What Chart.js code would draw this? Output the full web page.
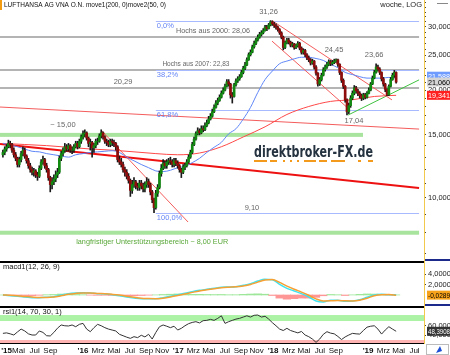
<!DOCTYPE html>
<html lang="de">
<head>
<meta charset="UTF-8">
<title>Lufthansa Wochenchart</title>
<style>
    body { margin: 0; background: #fff; }
    #wrap { position: relative; width: 450px; height: 355px; overflow: hidden; background: #fff; }
    #wrap canvas { position: absolute; left: 0; }
</style>
</head>
<body>
<div id="wrap">
    <canvas id="mainChart" width="450" height="261" style="top:0"></canvas>
    <canvas id="macdChart" width="450" height="45" style="top:261px"></canvas>
    <canvas id="rsiChart" width="450" height="49" style="top:306px"></canvas>
</div>

<script src="https://cdn.jsdelivr.net/npm/chart.js"></script>
<script>
// Wochen gezaehlt ab 5. Jan 2015 (Woche 0)
const firstWeek = 8;
const firstOpen = 13.2;

const closes = [
    13.4, 13.7, 13.9, 14.2, 14.1, 13.6, 13.2, 12.9, 12.4, 12.8,
    13.3, 13.6, 13.1, 12.7, 12.3, 12.0, 11.8, 11.9, 11.6, 11.5,
    12.1, 12.6, 12.8, 12.3, 12.0, 11.4, 10.9, 11.1, 11.3, 11.6,
    11.8, 12.9, 13.3, 13.6, 13.9, 13.7, 14.0, 13.6, 13.6, 13.9,
    14.2, 13.9, 14.4, 14.8, 15.1, 15.2, 14.7, 14.2, 14.3, 13.8,
    14.0, 14.4, 14.4, 14.9, 15.2, 14.8, 14.4, 14.3, 14.1, 14.4,
    14.3, 14.2, 13.9, 12.8, 12.6, 12.4, 12.0, 11.8, 11.5, 11.2,
    10.5, 10.9, 11.1, 10.8, 10.7, 11.0, 10.8, 10.6, 10.9, 11.1,
    10.9, 10.4, 9.9, 9.4, 10.3, 10.7, 11.7, 12.1, 12.5, 12.3,
    12.6, 12.7, 12.6, 12.4, 12.7, 12.5, 12.3, 12.0, 11.8, 12.2,
    12.3, 12.6, 13.0, 13.4, 14.1, 14.6, 15.1, 15.4, 15.2, 15.6,
    15.5, 15.9, 16.2, 16.6, 16.9, 17.4, 17.9, 18.4, 18.7, 19.1,
    19.6, 20.0, 20.5, 21.1, 20.8, 19.4, 19.2, 20.7, 21.2, 21.5,
    21.8, 22.4, 23.0, 23.5, 24.3, 25.1, 25.5, 26.4, 27.0, 27.6,
    28.1, 28.6, 28.9, 29.3, 30.0, 29.7, 30.4, 31.0, 30.6, 30.3,
    30.0, 29.5, 28.9, 28.1, 26.3, 27.1, 27.6, 27.2, 26.7, 26.9,
    26.3, 26.6, 27.0, 26.2, 25.5, 25.8, 25.1, 24.6, 24.3, 23.8,
    24.1, 23.2, 22.3, 20.8, 21.4, 22.0, 22.8, 23.2, 23.6, 24.0,
    23.7, 23.9, 24.1, 24.3, 23.6, 22.4, 21.3, 20.5, 18.8, 17.4,
    18.1, 19.0, 19.6, 20.3, 19.9, 19.6, 19.3, 19.0, 19.4, 19.1,
    19.6, 20.0, 20.8, 21.6, 22.4, 23.2, 22.9, 22.4, 21.5, 20.8,
    20.1, 19.4, 20.5, 21.4, 22.0, 22.4, 21.06
];
const highs = [
    13.6, 13.9, 14.1, 14.5, 14.4, 14.2, 13.8, 13.4, 13.0, 13.0,
    13.5, 13.9, 13.8, 13.2, 12.9, 12.5, 12.2, 12.1, 12.0, 11.8,
    12.3, 12.8, 13.1, 12.9, 12.5, 12.1, 11.5, 11.4, 11.6, 11.9,
    12.1, 13.1, 13.5, 13.8, 14.2, 14.1, 14.2, 14.1, 13.9, 14.1,
    14.4, 14.4, 14.6, 15.0, 15.4, 15.5, 15.3, 14.8, 14.6, 14.4,
    14.2, 14.6, 14.7, 15.1, 15.5, 15.3, 14.9, 14.6, 14.5, 14.6,
    14.6, 14.5, 14.3, 14.0, 13.1, 12.9, 12.6, 12.2, 12.0, 11.7,
    11.3, 11.2, 11.4, 11.2, 11.0, 11.2, 11.2, 11.0, 11.1, 11.4,
    11.3, 11.0, 10.5, 10.0, 10.5, 10.9, 11.9, 12.4, 12.8, 12.7,
    12.8, 12.9, 13.0, 12.8, 12.9, 12.9, 12.7, 12.4, 12.1, 12.4,
    12.5, 12.8, 13.2, 13.6, 14.3, 14.8, 15.3, 15.7, 15.6, 15.9,
    15.9, 16.2, 16.5, 16.9, 17.2, 17.7, 18.2, 18.7, 19.0, 19.4,
    19.9, 20.3, 20.8, 21.4, 21.4, 20.9, 19.7, 20.9, 21.5, 21.8,
    22.1, 22.7, 23.3, 23.9, 24.6, 25.4, 25.9, 26.7, 27.4, 27.9,
    28.5, 29.0, 29.3, 29.7, 30.3, 30.3, 30.7, 31.26, 31.2, 30.9,
    30.6, 30.2, 29.7, 29.1, 28.3, 27.4, 27.9, 27.9, 27.4, 27.2,
    27.0, 26.9, 27.3, 27.2, 26.4, 26.1, 26.0, 25.3, 24.9, 24.5,
    24.4, 24.2, 23.4, 22.4, 21.7, 22.3, 23.1, 23.5, 23.9, 24.3,
    24.2, 24.2, 24.4, 24.45, 24.4, 23.7, 22.5, 21.5, 20.6, 18.9,
    18.4, 19.3, 19.9, 20.6, 20.5, 20.1, 19.8, 19.5, 19.6, 19.6,
    19.8, 20.3, 21.0, 21.9, 22.7, 23.66, 23.5, 23.1, 22.5, 21.7,
    20.9, 20.2, 20.7, 21.7, 22.3, 22.7, 22.5
];
const lows = [
    13.0, 13.2, 13.5, 13.8, 13.8, 13.4, 13.0, 12.7, 12.2, 12.2,
    12.6, 13.1, 12.9, 12.5, 12.1, 11.8, 11.6, 11.5, 11.4, 11.2,
    11.4, 12.0, 12.4, 12.1, 11.8, 11.2, 10.4, 10.6, 10.9, 11.1,
    11.4, 11.7, 12.7, 13.1, 13.4, 13.5, 13.5, 13.4, 13.3, 13.4,
    13.8, 13.7, 13.8, 14.2, 14.6, 14.8, 14.5, 13.9, 13.6, 13.0,
    13.4, 13.8, 14.1, 14.3, 14.7, 14.6, 14.2, 14.0, 13.9, 13.9,
    14.0, 13.9, 13.6, 12.6, 12.4, 12.2, 11.8, 11.5, 11.3, 11.0,
    10.1, 10.3, 10.7, 10.6, 10.5, 10.5, 10.6, 10.4, 10.4, 10.7,
    10.7, 10.2, 9.7, 9.1, 9.3, 10.1, 10.6, 11.5, 12.0, 12.1,
    12.1, 12.4, 12.4, 12.2, 12.2, 12.3, 12.1, 11.8, 11.4, 11.7,
    12.0, 12.2, 12.5, 12.9, 13.3, 14.0, 14.5, 15.0, 15.0, 15.1,
    15.3, 15.4, 15.8, 16.1, 16.5, 16.8, 17.3, 17.8, 18.2, 18.6,
    19.0, 19.5, 19.9, 20.4, 20.5, 19.0, 18.4, 19.1, 20.5, 21.0,
    21.3, 21.7, 22.2, 22.8, 23.4, 24.2, 24.9, 25.4, 26.2, 26.8,
    27.4, 27.9, 28.3, 28.7, 29.2, 29.3, 29.6, 30.2, 30.3, 29.9,
    29.6, 29.2, 28.6, 27.8, 25.9, 26.1, 26.9, 26.9, 26.4, 26.4,
    26.0, 26.1, 26.4, 25.9, 25.2, 25.2, 24.8, 24.3, 24.0, 23.5,
    23.6, 22.9, 22.0, 20.5, 20.6, 21.2, 21.9, 22.6, 23.0, 23.4,
    23.4, 23.5, 23.7, 23.9, 23.3, 22.1, 21.0, 20.2, 18.5, 17.04,
    17.2, 17.9, 18.8, 19.4, 19.6, 19.3, 19.0, 18.7, 18.8, 18.9,
    19.0, 19.5, 19.9, 20.7, 21.5, 22.3, 22.6, 22.1, 21.2, 20.5,
    19.8, 19.3, 19.3, 20.4, 21.3, 21.7, 20.9
];

// gleitende Durchschnitte (move2 = 50 Wochen alle 4 Wochen, move1 = 200 Wochen alle 12 Wochen)
const ma50Step = 4;
const ma50 = [
    14.2, 14.05, 13.9, 13.7, 13.5, 13.45, 13.3, 13.2, 13.1, 13.0, 13.2,
    13.3, 13.4, 13.45, 13.5, 13.55, 13.4, 13.0, 12.7, 12.4, 12.15, 11.9,
    11.85, 11.95, 12.15, 12.25, 12.55, 12.9, 13.4, 13.85, 14.3, 15.1, 15.6,
    16.6, 17.9, 19.7, 21.4, 22.6, 23.7, 24.1, 24.45, 24.7, 24.7, 24.5,
    24.2, 23.6, 23.1, 22.4, 22.1, 21.8, 21.6, 21.6, 21.6, 21.7, 21.588
];
const ma200Step = 12;
const ma200 = [14.2, 14.1, 14.0, 13.85, 13.7, 13.6, 13.45, 13.3, 13.2, 13.35,
               13.9, 14.8, 15.8, 17.1, 18.0, 18.6, 18.8, 19.2, 19.341];

// Linien und Marken im Kurschart
const fibLevels = [31.26, 22.79, 17.57, 9.10];
const fibLabels = ['0,0%', '38,2%', '61,8%', '100,0%'];
const fibFromWeek = 92;
const resistLevels = [28.06, 22.83, 20.29];
const resistLabels = ['Hochs aus 2000: 28,06', 'Hochs aus 2007: 22,83', '20,29'];
const supportLevels = [15.00, 8.00];
const supportEnds = [205.8, 236.6];
const supportLabels = ['~ 15,00', 'langfristiger Unterstützungsbereich ~ 8,00 EUR'];
const extremeWeeks = [155, 191, 213, 197];
const extremeValues = [31.26, 24.45, 23.66, 17.04];
const extremeKinds = ['hoch', 'hoch', 'hoch', 'tief'];

const trendThin = [[6.4, 17.94], [236.6, 15.57]];
const trendThick = [[6.4, 14.15], [236.6, 10.66]];
const trend2016 = [[62.4, 15.38], [109.7, 8.57]];
const trend2018a = [[155.8, 31.26], [221.7, 18.78]];
const trend2018b = [[155.8, 27.4], [197.6, 17.8]];
const trendGreen = [[197.6, 17.04], [236.6, 21.36]];

const priceTicks = [10, 15, 20, 25, 30];

// MACD und Signal alle 4 Wochen
const macdStep = 4;
const macdLine = [
    0.0, -0.13, -0.25, -0.38, -0.51, -0.51, -0.44, -0.32, 0.0, 0.25, 0.38,
    0.44, 0.38, 0.25, 0.19, 0.06, -0.13, -0.38, -0.57, -0.70, -0.70, -0.70,
    -0.51, -0.25, 0.06, 0.32, 0.63, 0.89, 1.08, 1.27, 1.46, 1.52, 1.59,
    1.84, 2.16, 2.67, 2.98, 2.92, 2.03, 1.27, 0.76, 0.25, -0.38, -1.14,
    -1.33, -1.02, -1.02, -1.21, -1.14, -0.89, -0.44, 0.0, 0.13, 0.06, 0.06
];
const signalLine = [
    0.0, -0.05, -0.15, -0.28, -0.40, -0.48, -0.48, -0.40, -0.15, 0.12, 0.30,
    0.40, 0.40, 0.30, 0.22, 0.12, -0.02, -0.25, -0.45, -0.62, -0.68, -0.70,
    -0.60, -0.38, -0.08, 0.2, 0.5, 0.78, 1.0, 1.2, 1.38, 1.48, 1.55,
    1.72, 2.0, 2.45, 2.85, 2.95, 2.4, 1.7, 1.1, 0.55, -0.05, -0.75,
    -1.15, -1.12, -1.05, -1.12, -1.15, -1.0, -0.62, -0.15, 0.06, 0.08, -0.0289
];
const macdHist = [
    0, -0.1, -0.12, -0.12, -0.12, -0.05, 0.05, 0.1, 0.18, 0.15, 0.1,
    0.05, -0.03, -0.06, -0.05, -0.08, -0.15, -0.2, -0.15, -0.1, -0.03, 0.02,
    0.1, 0.15, 0.2, 0.15, 0.13, 0.12, 0.1, 0.08, 0.1, 0.05, 0.05,
    0.12, 0.18, 0.22, 0.15, -0.1, -0.6, -0.8, -0.7, -0.6, -0.6, -0.45,
    -0.15, 0.1, 0.05, -0.1, 0.03, 0.12, 0.2, 0.18, 0.08, -0.02, 0.02
];
const macdTicks = [2, 4];

// RSI alle 2 Wochen
const rsiStep = 2;
const rsiValues = [
    44, 45, 43, 40.5, 47, 53, 49, 43, 40.5, 40.5,
    49, 46, 39, 38.5, 46, 55, 61.6, 60, 59.5, 61.6,
    58, 63, 65, 53, 47.5, 56, 63, 60, 56, 53,
    51, 49, 42, 39, 36, 33.5, 37, 35, 40, 36.5,
    42, 32, 46, 58, 61.6, 59, 56, 59, 51, 54.6,
    60, 64.4, 67, 68.6, 66, 70.7, 71.4, 73.5, 71.4, 75.6,
    81, 65, 68.6, 71.4, 74, 75.6, 78.3, 81, 78.3, 82,
    82.6, 78.3, 80, 74, 66.5, 60, 53, 50, 54.6, 50,
    47.5, 45, 48, 40.5, 37, 32, 25, 32, 42, 47.5,
    44.5, 43, 37.5, 31, 36.5, 40.5, 44, 43, 42.5, 50,
    57, 59, 60, 53, 42.5, 51, 58, 53, 48.3908
];
const rsiUpper = 70, rsiLower = 30;
const rsiTicks = [40, 60];

const xTickWeeks = [10, 16.6, 25.4, 34.1, 52, 60.3, 69, 77.7, 86.6, 95.4, 104.3, 112.6, 121.1,
                    129.9, 138.7, 147.4, 156.4, 164.9, 173.4, 182.1, 190.9, 208.6, 217, 225.4, 234.1];
const xTickLabels = ["'15", 'Mai', 'Jul', 'Sep', "'16", 'Mrz', 'Mai', 'Jul', 'Sep', 'Nov', "'17", 'Mrz', 'Mai',
                     'Jul', 'Sep', 'Nov', "'18", 'Mrz', 'Mai', 'Jul', 'Sep', "'19", 'Mrz', 'Mai', 'Jul'];

// ---------------------------------------------------------------
Chart.defaults.font.family = '"Liberation Sans", Arial, sans-serif';
Chart.defaults.font.size = 7.5;
Chart.defaults.color = '#222';
Chart.defaults.animation = false;

const X_MIN = 6.4, X_MAX = 239.3, LINE_END = 236.6, AXIS_W = 26;
const fmt = (v, d) => v.toFixed(d).replace('.', ',');
const toPts = (vals, step) => vals.map((v, i) => ({ x: firstWeek + i * step, y: v }));
const seg = pts => pts.map(p => ({ x: p[0], y: p[1] }));
const lineDs = (data, color, width, extra) => Object.assign(
    { type: 'line', data, borderColor: color, borderWidth: width, pointRadius: 0, fill: false, tension: 0, order: 3 }, extra || {});

function xAxis() {
    return { type: 'linear', min: X_MIN, max: X_MAX, offset: false, display: false, grid: { offset: false } };
}
function rightAxis(min, max, ticks, decimals, type) {
    return {
        type: type || 'linear', position: 'right', min, max,
        afterBuildTicks: s => { s.ticks = ticks.map(v => ({ value: v })); },
        afterFit: s => { s.width = AXIS_W; s.paddingTop = 0; s.paddingBottom = 0; },
        grid: { drawOnChartArea: false, tickLength: 2, color: '#444' },
        border: { color: '#f2c94c', width: 1 },
        ticks: { autoSkip: false, padding: 2, color: '#222',
                 callback: v => (type === 'logarithmic' && !priceTicks.includes(v)) ? '' : fmt(v, decimals) }
    };
}
function txt(ctx, s, x, y, color, align, maxW, font) {
    ctx.font = font || '7.5px "Liberation Sans", Arial, sans-serif';
    ctx.fillStyle = color;
    ctx.textAlign = align || 'left';
    ctx.textBaseline = 'middle';
    if (maxW) ctx.fillText(s, x, y, maxW); else ctx.fillText(s, x, y);
}
function hline(ctx, x1, x2, y) { ctx.beginPath(); ctx.moveTo(x1, y); ctx.lineTo(x2, y); ctx.stroke(); }
function valueBox(ctx, a, py, text, bg, fg) {
    ctx.fillStyle = bg;
    ctx.fillRect(a.right + 3, py - 4.5, AXIS_W - 3, 9);
    txt(ctx, text, a.right + 4, py + 0.5, fg, 'left', AXIS_W - 4);
}

// ---------------------------------------------------------------
const weeks = closes.map((c, i) => firstWeek + i);
const opens = closes.map((c, i) => i ? closes[i - 1] : firstOpen);
const minorPriceTicks = Array.from({ length: 29 }, (v, i) => 7 + i);

const mainDeco = {
    id: 'mainDeco',
    beforeDatasetsDraw(chart) {
        const { ctx, chartArea: a } = chart;
        const x = chart.scales.x, y = chart.scales.y;
        const xEnd = x.getPixelForValue(LINE_END);
        ctx.save();
        // Wasserzeichen
        ctx.font = 'bold 16px "DejaVu Sans", sans-serif';
        ctx.fillStyle = '#25323f';
        ctx.textAlign = 'left';
        ctx.textBaseline = 'alphabetic';
        ctx.fillText('direktbroker-FX.de', 254, 157, 119);
        ctx.strokeStyle = '#f39a1c';
        ctx.lineWidth = 2;
        ctx.setLineDash([13, 3, 7, 6, 2, 5, 2, 5, 2, 5, 12, 3, 8, 4, 14]);
        hline(ctx, 254, 373, 161);
        ctx.setLineDash([]);

        ctx.fillStyle = '#a8e49e';
        supportLevels.forEach((v, i) => {
            const py = y.getPixelForValue(v);
            ctx.fillRect(a.left, py - 2, x.getPixelForValue(supportEnds[i]) - a.left, 4);
        });
        ctx.strokeStyle = '#b4b4b4';
        ctx.lineWidth = 2;
        resistLevels.forEach(v => hline(ctx, a.left, xEnd, Math.round(y.getPixelForValue(v))));
        ctx.strokeStyle = '#a9b9ff';
        ctx.lineWidth = 1;
        fibLevels.forEach(v => hline(ctx, x.getPixelForValue(fibFromWeek), xEnd, Math.round(y.getPixelForValue(v)) + 0.5));
        ctx.restore();
    },
    afterDraw(chart) {
        const { ctx, chartArea: a } = chart;
        const x = chart.scales.x, y = chart.scales.y;
        ctx.save();
        // Titel
        ctx.fillStyle = '#f39c12';
        ctx.fillRect(0, 0, 2, 10);
        txt(ctx, 'LUFTHANSA AG VNA O.N. move1(200, 0)move2(50, 0)', 4, 5, '#111', 'left', 162, '8px "Liberation Sans", Arial, sans-serif');
        txt(ctx, 'woche, LOG', a.right - 2, 5, '#222', 'right');
        ctx.fillStyle = '#888';
        ctx.fillRect(437, 3, 11, 1);

        const fx = x.getPixelForValue(fibFromWeek) + 1;
        fibLevels.forEach((v, i) => txt(ctx, fibLabels[i], fx, y.getPixelForValue(v) + 5, '#6585f5', 'left'));
        txt(ctx, fmt(fibLevels[3], 2), x.getPixelForValue(144.8), y.getPixelForValue(fibLevels[3]) - 5, '#666', 'center');

        const resistAt = [123.4, 114, 74];
        const resistW = [74, 67, 0];
        resistLevels.forEach((v, i) => txt(ctx, resistLabels[i], x.getPixelForValue(resistAt[i]),
            y.getPixelForValue(v) - 6, '#666', 'center', resistW[i] || undefined));

        txt(ctx, supportLabels[0], x.getPixelForValue(41), y.getPixelForValue(supportLevels[0]) - 10, '#666', 'center');
        txt(ctx, supportLabels[1], x.getPixelForValue(90), y.getPixelForValue(supportLevels[1]) + 9, '#5aa83a', 'center', 152);

        extremeValues.forEach((v, i) => {
            const dy = extremeKinds[i] === 'tief' ? 6 : -9;
            const dx = extremeKinds[i] === 'tief' ? 7 : -2;
            txt(ctx, fmt(v, 2), x.getPixelForValue(extremeWeeks[i]) + dx, y.getPixelForValue(v) + dy, '#666', 'center');
        });

        // Kursboxen rechts
        valueBox(ctx, a, y.getPixelForValue(ma50[ma50.length - 1]) - 2, fmt(ma50[ma50.length - 1], 3), '#6d9bff', '#fff');
        valueBox(ctx, a, y.getPixelForValue(closes[closes.length - 1]), fmt(closes[closes.length - 1], 3), '#d4d4d4', '#000');
        valueBox(ctx, a, y.getPixelForValue(ma200[ma200.length - 1]), fmt(ma200[ma200.length - 1], 3), '#ff1f1f', '#fff');
        ctx.fillStyle = '#1c2a8c';
        ctx.fillRect(a.right + 1, chart.height - 2, AXIS_W, 2);
        ctx.restore();
    }
};

new Chart(document.getElementById('mainChart'), {
    type: 'bar',
    data: {
        datasets: [
            { type: 'bar', data: weeks.map((w, i) => ({ x: w, y: [opens[i], closes[i]] })),
              backgroundColor: c => closes[c.dataIndex] >= opens[c.dataIndex] ? '#128a12' : '#8e0c0c',
              barThickness: 2, grouped: false, order: 0 },
            { type: 'bar', data: weeks.map((w, i) => ({ x: w, y: [lows[i], highs[i]] })),
              backgroundColor: '#1a1a1a', barThickness: 1, grouped: false, order: 1 },
            lineDs(toPts(ma50, ma50Step), '#5f86f7', 1, { cubicInterpolationMode: 'monotone' }),
            lineDs(toPts(ma200, ma200Step), '#ff4848', 1, { cubicInterpolationMode: 'monotone' }),
            lineDs(seg(trendThin), '#f45c5c', 1),
            lineDs(seg(trendThick), '#ee1111', 2),
            lineDs(seg(trend2016), '#f45c5c', 1),
            lineDs(seg(trend2018a), '#f45c5c', 1),
            lineDs(seg(trend2018b), '#f45c5c', 1),
            lineDs(seg(trendGreen), '#3fc23f', 1)
        ]
    },
    options: {
        responsive: false, devicePixelRatio: 1, events: [],
        layout: { padding: 0 },
        plugins: { legend: { display: false }, tooltip: { enabled: false } },
        scales: {
            x: xAxis(),
            y: rightAxis(6.671, 35.68, minorPriceTicks, 3, 'logarithmic')
        }
    },
    plugins: [mainDeco]
});

// ---------------------------------------------------------------
const macdDeco = {
    id: 'macdDeco',
    afterDraw(chart) {
        const { ctx, chartArea: a } = chart;
        const y = chart.scales.y;
        ctx.save();
        ctx.fillStyle = '#000';
        ctx.fillRect(0, 0, a.right, 2);
        ctx.fillStyle = '#1c2a8c';
        ctx.fillRect(a.right + 1, chart.height - 2, AXIS_W, 2);
        txt(ctx, 'macd1(12, 26, 9)', 3, 6, '#111');
        const last = signalLine[signalLine.length - 1];
        valueBox(ctx, a, y.getPixelForValue(last), fmt(last, 4), '#f7a21b', '#000');
        ctx.restore();
    }
};

new Chart(document.getElementById('macdChart'), {
    type: 'bar',
    data: {
        datasets: [
            lineDs(toPts(macdLine, macdStep), '#3fe3f0', 1.5, { cubicInterpolationMode: 'monotone', order: 1 }),
            lineDs(toPts(signalLine, macdStep), '#f5a033', 1.5, { cubicInterpolationMode: 'monotone', order: 0 }),
            { type: 'bar', data: toPts(macdHist, macdStep),
              backgroundColor: c => macdHist[c.dataIndex] >= 0 ? '#9ee79a' : '#ff9696',
              barThickness: 7.5, grouped: false, order: 5 }
        ]
    },
    options: {
        responsive: false, devicePixelRatio: 1, events: [],
        layout: { padding: 0 },
        plugins: { legend: { display: false }, tooltip: { enabled: false } },
        scales: { x: xAxis(), y: rightAxis(-2.1, 6.48, macdTicks, 4) }
    },
    plugins: [macdDeco]
});

// ---------------------------------------------------------------
const rsiDeco = {
    id: 'rsiDeco',
    beforeDatasetsDraw(chart) {
        const { ctx, chartArea: a } = chart;
        const y = chart.scales.y;
        ctx.save();
        ctx.fillStyle = '#adf3a6';
        const g1 = y.getPixelForValue(rsiUpper), g2 = y.getPixelForValue(82.6);
        ctx.fillRect(a.left, g2, a.right - a.left, g1 - g2);
        ctx.fillStyle = '#ffb4b4';
        const r1 = y.getPixelForValue(rsiLower);
        ctx.fillRect(a.left, r1, a.right - a.left, a.bottom - r1);
        ctx.restore();
    },
    afterDraw(chart) {
        const { ctx, chartArea: a } = chart;
        const y = chart.scales.y;
        ctx.save();
        ctx.fillStyle = '#000';
        ctx.fillRect(0, 0, a.right, 2);
        txt(ctx, 'rsi1(14, 70, 30, 1)', 3, 6, '#111');
        const last = rsiValues[rsiValues.length - 1];
        valueBox(ctx, a, y.getPixelForValue(last), fmt(last, 4), '#333', '#fff');
        // Symbol unten rechts
        ctx.strokeStyle = '#bbb';
        ctx.lineWidth = 1;
        ctx.strokeRect(a.right + 2.5, a.bottom + 1.5, AXIS_W - 4, 10);
        ctx.fillStyle = '#1d4fd6';
        ctx.beginPath();
        ctx.moveTo(a.right + 12, a.bottom + 10);
        ctx.lineTo(a.right + 16, a.bottom + 3);
        ctx.lineTo(a.right + 18, a.bottom + 8);
        ctx.closePath();
        ctx.fill();
        ctx.restore();
    }
};

new Chart(document.getElementById('rsiChart'), {
    type: 'line',
    data: {
        datasets: [lineDs(toPts(rsiValues, rsiStep), '#333', 1)]
    },
    options: {
        responsive: false, devicePixelRatio: 1, events: [],
        layout: { padding: 0 },
        plugins: { legend: { display: false }, tooltip: { enabled: false } },
        scales: {
            x: {
                type: 'linear', min: X_MIN, max: X_MAX, offset: false, position: 'bottom',
                afterBuildTicks: s => { s.ticks = xTickWeeks.map(v => ({ value: v })); },
                afterFit: s => { s.height = 12; s.paddingLeft = 0; s.paddingRight = 0; },
                grid: { drawOnChartArea: false, drawTicks: false },
                border: { display: true, color: '#000', width: 1 },
                ticks: {
                    autoSkip: false, maxRotation: 0, padding: 3, color: '#111',
                    callback: (v, i) => xTickLabels[i],
                    font: c => ({ size: 8, weight: (xTickLabels[c.index] || '').startsWith("'") ? 'bold' : 'normal' })
                }
            },
            y: rightAxis(23.7, 101.6, rsiTicks, 4)
        }
    },
    plugins: [rsiDeco]
});
</script>
</body>
</html>
